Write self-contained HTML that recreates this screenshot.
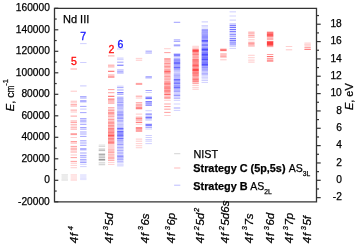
<!DOCTYPE html>
<html><head><meta charset="utf-8"><style>
html,body{margin:0;padding:0;background:#fff;width:357px;height:246px;overflow:hidden;}
svg{display:block;font-family:"Liberation Sans",sans-serif;}
</style></head><body>
<svg width="357" height="246" viewBox="0 0 357 246" font-family="Liberation Sans, sans-serif" fill="#000">
<rect width="357" height="246" fill="#fff"/>
<defs><filter id="bl" x="-5%" y="-5%" width="110%" height="110%"><feGaussianBlur stdDeviation="0.35 0.45"/></filter>
<filter id="gs" filterUnits="userSpaceOnUse" x="0" y="0" width="357" height="246"><feOffset dx="0" dy="0"/></filter></defs>
<g filter="url(#bl)">
<rect x="61.5" y="174.10" width="6.4" height="1" fill="#555555" fill-opacity="0.14"/>
<rect x="61.5" y="175.30" width="6.4" height="1" fill="#555555" fill-opacity="0.14"/>
<rect x="61.5" y="176.50" width="6.4" height="1" fill="#555555" fill-opacity="0.14"/>
<rect x="61.5" y="177.70" width="6.4" height="1" fill="#555555" fill-opacity="0.14"/>
<rect x="61.5" y="178.90" width="6.4" height="1" fill="#555555" fill-opacity="0.14"/>
<rect x="61.5" y="180.00" width="6.4" height="1" fill="#555555" fill-opacity="0.12"/>
<rect x="70.6" y="68.50" width="6.4" height="1" fill="#ff1e1e" fill-opacity="0.42"/>
<rect x="70.6" y="90.70" width="6.4" height="1" fill="#ff1e1e" fill-opacity="0.22"/>
<rect x="70.6" y="100.70" width="6.4" height="1" fill="#ff1e1e" fill-opacity="0.22"/>
<rect x="70.6" y="101.80" width="6.4" height="1" fill="#ff1e1e" fill-opacity="0.22"/>
<rect x="70.6" y="103.80" width="6.4" height="1" fill="#ff1e1e" fill-opacity="0.42"/>
<rect x="70.6" y="105.50" width="6.4" height="1" fill="#ff1e1e" fill-opacity="0.42"/>
<rect x="70.6" y="109.60" width="6.4" height="1" fill="#ff1e1e" fill-opacity="0.42"/>
<rect x="70.6" y="111.50" width="6.4" height="1" fill="#ff1e1e" fill-opacity="0.22"/>
<rect x="70.6" y="115.60" width="6.4" height="1" fill="#ff1e1e" fill-opacity="0.42"/>
<rect x="70.6" y="120.50" width="6.4" height="1" fill="#ff1e1e" fill-opacity="0.42"/>
<rect x="70.6" y="122.10" width="6.4" height="1" fill="#ff1e1e" fill-opacity="0.42"/>
<rect x="70.6" y="124.30" width="6.4" height="1" fill="#ff1e1e" fill-opacity="0.42"/>
<rect x="70.6" y="126.70" width="6.4" height="1" fill="#ff1e1e" fill-opacity="0.42"/>
<rect x="70.6" y="128.60" width="6.4" height="1" fill="#ff1e1e" fill-opacity="0.42"/>
<rect x="70.6" y="133.20" width="6.4" height="1" fill="#ff1e1e" fill-opacity="0.42"/>
<rect x="70.6" y="134.10" width="6.4" height="1" fill="#ff1e1e" fill-opacity="0.42"/>
<rect x="70.6" y="137.00" width="6.4" height="1" fill="#ff1e1e" fill-opacity="0.22"/>
<rect x="70.6" y="141.00" width="6.4" height="1" fill="#ff1e1e" fill-opacity="0.42"/>
<rect x="70.6" y="142.50" width="6.4" height="1" fill="#ff1e1e" fill-opacity="0.42"/>
<rect x="70.6" y="145.90" width="6.4" height="1" fill="#ff1e1e" fill-opacity="0.42"/>
<rect x="70.6" y="147.70" width="6.4" height="1" fill="#ff1e1e" fill-opacity="0.42"/>
<rect x="70.6" y="149.30" width="6.4" height="1" fill="#ff1e1e" fill-opacity="0.42"/>
<rect x="70.6" y="151.50" width="6.4" height="1" fill="#ff1e1e" fill-opacity="0.42"/>
<rect x="70.6" y="154.50" width="6.4" height="1" fill="#ff1e1e" fill-opacity="0.22"/>
<rect x="70.6" y="157.10" width="6.4" height="1" fill="#ff1e1e" fill-opacity="0.42"/>
<rect x="70.6" y="160.90" width="6.4" height="1" fill="#ff1e1e" fill-opacity="0.42"/>
<rect x="70.6" y="162.70" width="6.4" height="1" fill="#ff1e1e" fill-opacity="0.22"/>
<rect x="70.6" y="164.90" width="6.4" height="1" fill="#ff1e1e" fill-opacity="0.22"/>
<rect x="70.6" y="167.20" width="6.4" height="1" fill="#ff1e1e" fill-opacity="0.22"/>
<rect x="70.6" y="174.10" width="6.4" height="1" fill="#ff1e1e" fill-opacity="0.13"/>
<rect x="70.6" y="175.30" width="6.4" height="1" fill="#ff1e1e" fill-opacity="0.13"/>
<rect x="70.6" y="176.50" width="6.4" height="1" fill="#ff1e1e" fill-opacity="0.13"/>
<rect x="70.6" y="177.70" width="6.4" height="1" fill="#ff1e1e" fill-opacity="0.13"/>
<rect x="70.6" y="178.90" width="6.4" height="1" fill="#ff1e1e" fill-opacity="0.13"/>
<rect x="70.6" y="180.00" width="6.4" height="1" fill="#ff1e1e" fill-opacity="0.11"/>
<rect x="80.1" y="43.10" width="6.4" height="1" fill="#2323ff" fill-opacity="0.22"/>
<rect x="80.1" y="62.00" width="6.4" height="1" fill="#2323ff" fill-opacity="0.22"/>
<rect x="80.1" y="85.40" width="6.4" height="1" fill="#2323ff" fill-opacity="0.22"/>
<rect x="80.1" y="96.10" width="6.4" height="1" fill="#2323ff" fill-opacity="0.42"/>
<rect x="80.1" y="97.50" width="6.4" height="1" fill="#2323ff" fill-opacity="0.42"/>
<rect x="80.1" y="100.20" width="6.4" height="1" fill="#2323ff" fill-opacity="0.42"/>
<rect x="80.1" y="101.30" width="6.4" height="1" fill="#2323ff" fill-opacity="0.42"/>
<rect x="80.1" y="105.90" width="6.4" height="1" fill="#2323ff" fill-opacity="0.42"/>
<rect x="80.1" y="108.60" width="6.4" height="1" fill="#2323ff" fill-opacity="0.22"/>
<rect x="80.1" y="112.10" width="6.4" height="1" fill="#2323ff" fill-opacity="0.42"/>
<rect x="80.1" y="118.10" width="6.4" height="1" fill="#2323ff" fill-opacity="0.42"/>
<rect x="80.1" y="119.70" width="6.4" height="1" fill="#2323ff" fill-opacity="0.42"/>
<rect x="80.1" y="121.30" width="6.4" height="1" fill="#2323ff" fill-opacity="0.42"/>
<rect x="80.1" y="123.80" width="6.4" height="1" fill="#2323ff" fill-opacity="0.42"/>
<rect x="80.1" y="127.00" width="6.4" height="1" fill="#2323ff" fill-opacity="0.42"/>
<rect x="80.1" y="128.60" width="6.4" height="1" fill="#2323ff" fill-opacity="0.42"/>
<rect x="80.1" y="131.50" width="6.4" height="1" fill="#2323ff" fill-opacity="0.42"/>
<rect x="80.1" y="133.50" width="6.4" height="1" fill="#2323ff" fill-opacity="0.42"/>
<rect x="80.1" y="135.90" width="6.4" height="1" fill="#2323ff" fill-opacity="0.42"/>
<rect x="80.1" y="140.30" width="6.4" height="1" fill="#2323ff" fill-opacity="0.42"/>
<rect x="80.1" y="142.50" width="6.4" height="1" fill="#2323ff" fill-opacity="0.42"/>
<rect x="80.1" y="144.80" width="6.4" height="1" fill="#2323ff" fill-opacity="0.42"/>
<rect x="80.1" y="148.20" width="6.4" height="1" fill="#2323ff" fill-opacity="0.42"/>
<rect x="80.1" y="149.30" width="6.4" height="1" fill="#2323ff" fill-opacity="0.42"/>
<rect x="80.1" y="152.50" width="6.4" height="1" fill="#2323ff" fill-opacity="0.42"/>
<rect x="80.1" y="154.90" width="6.4" height="1" fill="#2323ff" fill-opacity="0.42"/>
<rect x="80.1" y="156.70" width="6.4" height="1" fill="#2323ff" fill-opacity="0.42"/>
<rect x="80.1" y="158.90" width="6.4" height="1" fill="#2323ff" fill-opacity="0.42"/>
<rect x="80.1" y="160.50" width="6.4" height="1" fill="#2323ff" fill-opacity="0.42"/>
<rect x="80.1" y="162.00" width="6.4" height="1" fill="#2323ff" fill-opacity="0.42"/>
<rect x="80.1" y="163.80" width="6.4" height="1" fill="#2323ff" fill-opacity="0.22"/>
<rect x="80.1" y="166.10" width="6.4" height="1" fill="#2323ff" fill-opacity="0.22"/>
<rect x="80.1" y="174.30" width="6.4" height="1" fill="#2323ff" fill-opacity="0.12"/>
<rect x="80.1" y="175.50" width="6.4" height="1" fill="#2323ff" fill-opacity="0.12"/>
<rect x="80.1" y="176.70" width="6.4" height="1" fill="#2323ff" fill-opacity="0.12"/>
<rect x="80.1" y="177.90" width="6.4" height="1" fill="#2323ff" fill-opacity="0.12"/>
<rect x="80.1" y="179.10" width="6.4" height="1" fill="#2323ff" fill-opacity="0.12"/>
<rect x="98.7" y="144.60" width="6.4" height="1" fill="#555555" fill-opacity="0.22"/>
<rect x="98.7" y="146.00" width="6.4" height="1" fill="#555555" fill-opacity="0.22"/>
<rect x="98.7" y="148.60" width="6.4" height="1" fill="#555555" fill-opacity="0.42"/>
<rect x="98.7" y="150.10" width="6.4" height="1" fill="#555555" fill-opacity="0.42"/>
<rect x="98.7" y="153.70" width="6.4" height="1" fill="#555555" fill-opacity="0.70"/>
<rect x="98.7" y="155.40" width="6.4" height="1" fill="#555555" fill-opacity="0.42"/>
<rect x="98.7" y="156.80" width="6.4" height="1" fill="#555555" fill-opacity="0.42"/>
<rect x="98.7" y="158.80" width="6.4" height="1" fill="#555555" fill-opacity="0.70"/>
<rect x="98.7" y="159.80" width="6.4" height="1" fill="#555555" fill-opacity="0.42"/>
<rect x="98.7" y="161.90" width="6.4" height="1" fill="#555555" fill-opacity="0.22"/>
<rect x="98.7" y="163.50" width="6.4" height="1" fill="#555555" fill-opacity="0.22"/>
<rect x="98.7" y="164.30" width="6.4" height="1" fill="#555555" fill-opacity="0.22"/>
<rect x="108.0" y="55.40" width="6.4" height="1" fill="#ff1e1e" fill-opacity="0.42"/>
<rect x="108.0" y="64.70" width="6.4" height="1" fill="#ff1e1e" fill-opacity="0.42"/>
<rect x="108.0" y="66.40" width="6.4" height="1" fill="#ff1e1e" fill-opacity="0.42"/>
<rect x="108.0" y="70.80" width="6.4" height="1" fill="#ff1e1e" fill-opacity="0.70"/>
<rect x="108.0" y="74.50" width="6.4" height="1" fill="#ff1e1e" fill-opacity="0.42"/>
<rect x="108.0" y="75.90" width="6.4" height="1" fill="#ff1e1e" fill-opacity="0.42"/>
<rect x="108.0" y="76.90" width="6.4" height="1" fill="#ff1e1e" fill-opacity="0.42"/>
<rect x="108.0" y="89.10" width="6.4" height="1" fill="#ff1e1e" fill-opacity="0.42"/>
<rect x="108.0" y="92.20" width="6.4" height="1" fill="#ff1e1e" fill-opacity="0.42"/>
<rect x="108.0" y="95.80" width="6.4" height="1" fill="#ff1e1e" fill-opacity="0.70"/>
<rect x="108.0" y="98.30" width="6.4" height="1" fill="#ff1e1e" fill-opacity="0.42"/>
<rect x="108.0" y="99.00" width="6.4" height="1" fill="#ff1e1e" fill-opacity="0.38"/>
<rect x="108.0" y="100.33" width="6.4" height="1" fill="#ff1e1e" fill-opacity="0.46"/>
<rect x="108.0" y="101.63" width="6.4" height="1" fill="#ff1e1e" fill-opacity="0.43"/>
<rect x="108.0" y="103.03" width="6.4" height="1" fill="#ff1e1e" fill-opacity="0.31"/>
<rect x="108.0" y="107.22" width="6.4" height="1" fill="#ff1e1e" fill-opacity="0.41"/>
<rect x="108.0" y="108.78" width="6.4" height="1" fill="#ff1e1e" fill-opacity="0.33"/>
<rect x="108.0" y="110.14" width="6.4" height="1" fill="#ff1e1e" fill-opacity="0.46"/>
<rect x="108.0" y="111.74" width="6.4" height="1" fill="#ff1e1e" fill-opacity="0.62"/>
<rect x="108.0" y="113.36" width="6.4" height="1" fill="#ff1e1e" fill-opacity="0.68"/>
<rect x="108.0" y="114.74" width="6.4" height="1" fill="#ff1e1e" fill-opacity="0.34"/>
<rect x="108.0" y="116.05" width="6.4" height="1" fill="#ff1e1e" fill-opacity="0.38"/>
<rect x="108.0" y="117.61" width="6.4" height="1" fill="#ff1e1e" fill-opacity="0.35"/>
<rect x="108.0" y="119.09" width="6.4" height="1" fill="#ff1e1e" fill-opacity="0.46"/>
<rect x="108.0" y="120.50" width="6.4" height="1" fill="#ff1e1e" fill-opacity="0.44"/>
<rect x="108.0" y="121.79" width="6.4" height="1" fill="#ff1e1e" fill-opacity="0.59"/>
<rect x="108.0" y="123.31" width="6.4" height="1" fill="#ff1e1e" fill-opacity="0.60"/>
<rect x="108.0" y="124.79" width="6.4" height="1" fill="#ff1e1e" fill-opacity="0.60"/>
<rect x="108.0" y="126.34" width="6.4" height="1" fill="#ff1e1e" fill-opacity="0.59"/>
<rect x="108.0" y="127.82" width="6.4" height="1" fill="#ff1e1e" fill-opacity="0.68"/>
<rect x="108.0" y="129.35" width="6.4" height="1" fill="#ff1e1e" fill-opacity="0.70"/>
<rect x="108.0" y="130.66" width="6.4" height="1" fill="#ff1e1e" fill-opacity="0.67"/>
<rect x="108.0" y="131.99" width="6.4" height="1" fill="#ff1e1e" fill-opacity="0.57"/>
<rect x="108.0" y="133.50" width="6.4" height="1" fill="#ff1e1e" fill-opacity="0.88"/>
<rect x="108.0" y="134.89" width="6.4" height="1" fill="#ff1e1e" fill-opacity="0.82"/>
<rect x="108.0" y="136.32" width="6.4" height="1" fill="#ff1e1e" fill-opacity="0.81"/>
<rect x="108.0" y="137.83" width="6.4" height="1" fill="#ff1e1e" fill-opacity="0.66"/>
<rect x="108.0" y="139.33" width="6.4" height="1" fill="#ff1e1e" fill-opacity="0.68"/>
<rect x="108.0" y="140.70" width="6.4" height="1" fill="#ff1e1e" fill-opacity="0.65"/>
<rect x="108.0" y="141.99" width="6.4" height="1" fill="#ff1e1e" fill-opacity="0.58"/>
<rect x="108.0" y="143.30" width="6.4" height="1" fill="#ff1e1e" fill-opacity="0.67"/>
<rect x="108.0" y="145.50" width="6.4" height="1" fill="#ff1e1e" fill-opacity="0.42"/>
<rect x="108.0" y="147.50" width="6.4" height="1" fill="#ff1e1e" fill-opacity="0.42"/>
<rect x="108.0" y="149.30" width="6.4" height="1" fill="#ff1e1e" fill-opacity="0.42"/>
<rect x="108.0" y="150.70" width="6.4" height="1" fill="#ff1e1e" fill-opacity="0.42"/>
<rect x="108.0" y="152.10" width="6.4" height="1" fill="#ff1e1e" fill-opacity="0.42"/>
<rect x="108.0" y="153.70" width="6.4" height="1" fill="#ff1e1e" fill-opacity="0.42"/>
<rect x="108.0" y="155.40" width="6.4" height="1" fill="#ff1e1e" fill-opacity="0.42"/>
<rect x="108.0" y="156.80" width="6.4" height="1" fill="#ff1e1e" fill-opacity="0.42"/>
<rect x="108.0" y="158.20" width="6.4" height="1" fill="#ff1e1e" fill-opacity="0.42"/>
<rect x="108.0" y="159.80" width="6.4" height="1" fill="#ff1e1e" fill-opacity="0.42"/>
<rect x="108.0" y="161.90" width="6.4" height="1" fill="#ff1e1e" fill-opacity="0.22"/>
<rect x="108.0" y="163.90" width="6.4" height="1" fill="#ff1e1e" fill-opacity="0.22"/>
<rect x="117.1" y="48.50" width="6.4" height="1" fill="#2323ff" fill-opacity="0.22"/>
<rect x="117.1" y="57.60" width="6.4" height="1" fill="#2323ff" fill-opacity="0.22"/>
<rect x="117.1" y="59.10" width="6.4" height="1" fill="#2323ff" fill-opacity="0.22"/>
<rect x="117.1" y="61.70" width="6.4" height="1" fill="#2323ff" fill-opacity="0.42"/>
<rect x="117.1" y="64.70" width="6.4" height="1" fill="#2323ff" fill-opacity="0.70"/>
<rect x="117.1" y="69.50" width="6.4" height="1" fill="#2323ff" fill-opacity="0.42"/>
<rect x="117.1" y="71.20" width="6.4" height="1" fill="#2323ff" fill-opacity="0.42"/>
<rect x="117.1" y="72.50" width="6.4" height="1" fill="#2323ff" fill-opacity="0.42"/>
<rect x="117.1" y="85.70" width="6.4" height="1" fill="#2323ff" fill-opacity="0.22"/>
<rect x="117.1" y="87.10" width="6.4" height="1" fill="#2323ff" fill-opacity="0.42"/>
<rect x="117.1" y="89.50" width="6.4" height="1" fill="#2323ff" fill-opacity="0.42"/>
<rect x="117.1" y="92.20" width="6.4" height="1" fill="#2323ff" fill-opacity="0.70"/>
<rect x="117.1" y="93.80" width="6.4" height="1" fill="#2323ff" fill-opacity="0.42"/>
<rect x="117.1" y="96.70" width="6.4" height="1" fill="#2323ff" fill-opacity="0.42"/>
<rect x="117.1" y="98.00" width="6.4" height="1" fill="#2323ff" fill-opacity="0.36"/>
<rect x="117.1" y="99.41" width="6.4" height="1" fill="#2323ff" fill-opacity="0.52"/>
<rect x="117.1" y="100.72" width="6.4" height="1" fill="#2323ff" fill-opacity="0.41"/>
<rect x="117.1" y="102.18" width="6.4" height="1" fill="#2323ff" fill-opacity="0.52"/>
<rect x="117.1" y="103.74" width="6.4" height="1" fill="#2323ff" fill-opacity="0.52"/>
<rect x="117.1" y="105.12" width="6.4" height="1" fill="#2323ff" fill-opacity="0.40"/>
<rect x="117.1" y="106.52" width="6.4" height="1" fill="#2323ff" fill-opacity="0.52"/>
<rect x="117.1" y="108.13" width="6.4" height="1" fill="#2323ff" fill-opacity="0.34"/>
<rect x="117.1" y="109.46" width="6.4" height="1" fill="#2323ff" fill-opacity="0.36"/>
<rect x="117.1" y="110.82" width="6.4" height="1" fill="#2323ff" fill-opacity="0.42"/>
<rect x="117.1" y="112.30" width="6.4" height="1" fill="#2323ff" fill-opacity="0.56"/>
<rect x="117.1" y="113.72" width="6.4" height="1" fill="#2323ff" fill-opacity="0.64"/>
<rect x="117.1" y="115.33" width="6.4" height="1" fill="#2323ff" fill-opacity="0.63"/>
<rect x="117.1" y="116.82" width="6.4" height="1" fill="#2323ff" fill-opacity="0.47"/>
<rect x="117.1" y="118.12" width="6.4" height="1" fill="#2323ff" fill-opacity="0.52"/>
<rect x="117.1" y="119.67" width="6.4" height="1" fill="#2323ff" fill-opacity="0.52"/>
<rect x="117.1" y="121.22" width="6.4" height="1" fill="#2323ff" fill-opacity="0.40"/>
<rect x="117.1" y="122.63" width="6.4" height="1" fill="#2323ff" fill-opacity="0.33"/>
<rect x="117.1" y="124.13" width="6.4" height="1" fill="#2323ff" fill-opacity="0.32"/>
<rect x="117.1" y="125.43" width="6.4" height="1" fill="#2323ff" fill-opacity="0.35"/>
<rect x="117.1" y="126.76" width="6.4" height="1" fill="#2323ff" fill-opacity="0.39"/>
<rect x="117.1" y="128.06" width="6.4" height="1" fill="#2323ff" fill-opacity="0.71"/>
<rect x="117.1" y="129.37" width="6.4" height="1" fill="#2323ff" fill-opacity="0.68"/>
<rect x="117.1" y="130.95" width="6.4" height="1" fill="#2323ff" fill-opacity="0.71"/>
<rect x="117.1" y="132.31" width="6.4" height="1" fill="#2323ff" fill-opacity="0.74"/>
<rect x="117.1" y="133.63" width="6.4" height="1" fill="#2323ff" fill-opacity="0.85"/>
<rect x="117.1" y="135.07" width="6.4" height="1" fill="#2323ff" fill-opacity="0.69"/>
<rect x="117.1" y="136.38" width="6.4" height="1" fill="#2323ff" fill-opacity="0.73"/>
<rect x="117.1" y="137.95" width="6.4" height="1" fill="#2323ff" fill-opacity="0.68"/>
<rect x="117.1" y="139.55" width="6.4" height="1" fill="#2323ff" fill-opacity="0.70"/>
<rect x="117.1" y="141.02" width="6.4" height="1" fill="#2323ff" fill-opacity="0.31"/>
<rect x="117.1" y="142.48" width="6.4" height="1" fill="#2323ff" fill-opacity="0.54"/>
<rect x="117.1" y="144.05" width="6.4" height="1" fill="#2323ff" fill-opacity="0.47"/>
<rect x="117.1" y="145.50" width="6.4" height="1" fill="#2323ff" fill-opacity="0.42"/>
<rect x="117.1" y="147.10" width="6.4" height="1" fill="#2323ff" fill-opacity="0.42"/>
<rect x="117.1" y="148.50" width="6.4" height="1" fill="#2323ff" fill-opacity="0.42"/>
<rect x="117.1" y="150.10" width="6.4" height="1" fill="#2323ff" fill-opacity="0.42"/>
<rect x="117.1" y="151.70" width="6.4" height="1" fill="#2323ff" fill-opacity="0.42"/>
<rect x="117.1" y="153.30" width="6.4" height="1" fill="#2323ff" fill-opacity="0.42"/>
<rect x="117.1" y="154.90" width="6.4" height="1" fill="#2323ff" fill-opacity="0.42"/>
<rect x="117.1" y="156.30" width="6.4" height="1" fill="#2323ff" fill-opacity="0.70"/>
<rect x="117.1" y="157.70" width="6.4" height="1" fill="#2323ff" fill-opacity="0.42"/>
<rect x="117.1" y="159.10" width="6.4" height="1" fill="#2323ff" fill-opacity="0.42"/>
<rect x="117.1" y="160.70" width="6.4" height="1" fill="#2323ff" fill-opacity="0.42"/>
<rect x="117.1" y="162.10" width="6.4" height="1" fill="#2323ff" fill-opacity="0.22"/>
<rect x="117.1" y="163.70" width="6.4" height="1" fill="#2323ff" fill-opacity="0.22"/>
<rect x="117.1" y="165.30" width="6.4" height="1" fill="#2323ff" fill-opacity="0.22"/>
<rect x="135.8" y="57.90" width="6.4" height="1" fill="#ff1e1e" fill-opacity="0.22"/>
<rect x="135.8" y="59.70" width="6.4" height="1" fill="#ff1e1e" fill-opacity="0.22"/>
<rect x="135.8" y="82.90" width="6.4" height="1" fill="#ff1e1e" fill-opacity="0.42"/>
<rect x="135.8" y="83.90" width="6.4" height="1" fill="#ff1e1e" fill-opacity="0.42"/>
<rect x="135.8" y="95.70" width="6.4" height="1" fill="#ff1e1e" fill-opacity="0.42"/>
<rect x="135.8" y="97.50" width="6.4" height="1" fill="#ff1e1e" fill-opacity="0.22"/>
<rect x="135.8" y="102.20" width="6.4" height="1" fill="#ff1e1e" fill-opacity="0.42"/>
<rect x="135.8" y="103.80" width="6.4" height="1" fill="#ff1e1e" fill-opacity="0.42"/>
<rect x="135.8" y="105.20" width="6.4" height="1" fill="#ff1e1e" fill-opacity="0.42"/>
<rect x="135.8" y="106.70" width="6.4" height="1" fill="#ff1e1e" fill-opacity="0.70"/>
<rect x="135.8" y="108.20" width="6.4" height="1" fill="#ff1e1e" fill-opacity="0.70"/>
<rect x="135.8" y="113.60" width="6.4" height="1" fill="#ff1e1e" fill-opacity="0.22"/>
<rect x="135.8" y="116.70" width="6.4" height="1" fill="#ff1e1e" fill-opacity="0.42"/>
<rect x="135.8" y="118.30" width="6.4" height="1" fill="#ff1e1e" fill-opacity="0.70"/>
<rect x="135.8" y="119.70" width="6.4" height="1" fill="#ff1e1e" fill-opacity="0.42"/>
<rect x="135.8" y="121.80" width="6.4" height="1" fill="#ff1e1e" fill-opacity="0.70"/>
<rect x="135.8" y="123.80" width="6.4" height="1" fill="#ff1e1e" fill-opacity="0.22"/>
<rect x="135.8" y="127.30" width="6.4" height="1" fill="#ff1e1e" fill-opacity="0.70"/>
<rect x="135.8" y="128.50" width="6.4" height="1" fill="#ff1e1e" fill-opacity="0.70"/>
<rect x="135.8" y="129.90" width="6.4" height="1" fill="#ff1e1e" fill-opacity="0.42"/>
<rect x="135.8" y="130.90" width="6.4" height="1" fill="#ff1e1e" fill-opacity="0.42"/>
<rect x="135.8" y="138.60" width="6.4" height="1" fill="#ff1e1e" fill-opacity="0.22"/>
<rect x="135.8" y="140.70" width="6.4" height="1" fill="#ff1e1e" fill-opacity="0.22"/>
<rect x="135.8" y="143.10" width="6.4" height="1" fill="#ff1e1e" fill-opacity="0.22"/>
<rect x="135.8" y="145.20" width="6.4" height="1" fill="#ff1e1e" fill-opacity="0.22"/>
<rect x="135.8" y="147.20" width="6.4" height="1" fill="#ff1e1e" fill-opacity="0.22"/>
<rect x="145.5" y="50.70" width="6.4" height="1" fill="#2323ff" fill-opacity="0.42"/>
<rect x="145.5" y="52.50" width="6.4" height="1" fill="#2323ff" fill-opacity="0.42"/>
<rect x="145.5" y="76.20" width="6.4" height="1" fill="#2323ff" fill-opacity="0.42"/>
<rect x="145.5" y="77.40" width="6.4" height="1" fill="#2323ff" fill-opacity="0.42"/>
<rect x="145.5" y="90.00" width="6.4" height="1" fill="#2323ff" fill-opacity="0.42"/>
<rect x="145.5" y="92.00" width="6.4" height="1" fill="#2323ff" fill-opacity="0.22"/>
<rect x="145.5" y="96.70" width="6.4" height="1" fill="#2323ff" fill-opacity="0.70"/>
<rect x="145.5" y="98.10" width="6.4" height="1" fill="#2323ff" fill-opacity="0.70"/>
<rect x="145.5" y="101.20" width="6.4" height="1" fill="#2323ff" fill-opacity="0.70"/>
<rect x="145.5" y="102.60" width="6.4" height="1" fill="#2323ff" fill-opacity="0.70"/>
<rect x="145.5" y="104.20" width="6.4" height="1" fill="#2323ff" fill-opacity="0.42"/>
<rect x="145.5" y="105.00" width="6.4" height="1" fill="#2323ff" fill-opacity="0.42"/>
<rect x="145.5" y="110.20" width="6.4" height="1" fill="#2323ff" fill-opacity="0.22"/>
<rect x="145.5" y="113.60" width="6.4" height="1" fill="#2323ff" fill-opacity="0.70"/>
<rect x="145.5" y="115.70" width="6.4" height="1" fill="#2323ff" fill-opacity="0.42"/>
<rect x="145.5" y="117.10" width="6.4" height="1" fill="#2323ff" fill-opacity="0.70"/>
<rect x="145.5" y="118.30" width="6.4" height="1" fill="#2323ff" fill-opacity="0.42"/>
<rect x="145.5" y="119.70" width="6.4" height="1" fill="#2323ff" fill-opacity="0.22"/>
<rect x="145.5" y="123.80" width="6.4" height="1" fill="#2323ff" fill-opacity="0.70"/>
<rect x="145.5" y="125.20" width="6.4" height="1" fill="#2323ff" fill-opacity="0.70"/>
<rect x="145.5" y="126.90" width="6.4" height="1" fill="#2323ff" fill-opacity="0.42"/>
<rect x="145.5" y="128.50" width="6.4" height="1" fill="#2323ff" fill-opacity="0.22"/>
<rect x="145.5" y="135.00" width="6.4" height="1" fill="#2323ff" fill-opacity="0.22"/>
<rect x="145.5" y="137.00" width="6.4" height="1" fill="#2323ff" fill-opacity="0.22"/>
<rect x="145.5" y="139.10" width="6.4" height="1" fill="#2323ff" fill-opacity="0.22"/>
<rect x="145.5" y="140.70" width="6.4" height="1" fill="#2323ff" fill-opacity="0.22"/>
<rect x="145.5" y="143.10" width="6.4" height="1" fill="#2323ff" fill-opacity="0.22"/>
<rect x="164.2" y="48.20" width="6.4" height="1" fill="#ff1e1e" fill-opacity="0.22"/>
<rect x="164.2" y="52.10" width="6.4" height="1" fill="#ff1e1e" fill-opacity="0.42"/>
<rect x="164.2" y="58.00" width="6.4" height="1" fill="#ff1e1e" fill-opacity="0.39"/>
<rect x="164.2" y="59.20" width="6.4" height="1" fill="#ff1e1e" fill-opacity="0.49"/>
<rect x="164.2" y="60.51" width="6.4" height="1" fill="#ff1e1e" fill-opacity="0.49"/>
<rect x="164.2" y="61.75" width="6.4" height="1" fill="#ff1e1e" fill-opacity="0.36"/>
<rect x="164.2" y="63.15" width="6.4" height="1" fill="#ff1e1e" fill-opacity="0.55"/>
<rect x="164.2" y="64.56" width="6.4" height="1" fill="#ff1e1e" fill-opacity="0.50"/>
<rect x="164.2" y="65.96" width="6.4" height="1" fill="#ff1e1e" fill-opacity="0.48"/>
<rect x="164.2" y="67.17" width="6.4" height="1" fill="#ff1e1e" fill-opacity="0.43"/>
<rect x="164.2" y="68.43" width="6.4" height="1" fill="#ff1e1e" fill-opacity="0.31"/>
<rect x="164.2" y="69.58" width="6.4" height="1" fill="#ff1e1e" fill-opacity="0.68"/>
<rect x="164.2" y="70.94" width="6.4" height="1" fill="#ff1e1e" fill-opacity="0.71"/>
<rect x="164.2" y="72.38" width="6.4" height="1" fill="#ff1e1e" fill-opacity="0.79"/>
<rect x="164.2" y="73.64" width="6.4" height="1" fill="#ff1e1e" fill-opacity="0.36"/>
<rect x="164.2" y="74.85" width="6.4" height="1" fill="#ff1e1e" fill-opacity="0.35"/>
<rect x="164.2" y="76.06" width="6.4" height="1" fill="#ff1e1e" fill-opacity="0.46"/>
<rect x="164.2" y="77.48" width="6.4" height="1" fill="#ff1e1e" fill-opacity="0.51"/>
<rect x="164.2" y="78.78" width="6.4" height="1" fill="#ff1e1e" fill-opacity="0.46"/>
<rect x="164.2" y="80.17" width="6.4" height="1" fill="#ff1e1e" fill-opacity="0.32"/>
<rect x="164.2" y="81.52" width="6.4" height="1" fill="#ff1e1e" fill-opacity="0.72"/>
<rect x="164.2" y="82.90" width="6.4" height="1" fill="#ff1e1e" fill-opacity="0.63"/>
<rect x="164.2" y="84.29" width="6.4" height="1" fill="#ff1e1e" fill-opacity="0.72"/>
<rect x="164.2" y="85.74" width="6.4" height="1" fill="#ff1e1e" fill-opacity="0.66"/>
<rect x="164.2" y="87.18" width="6.4" height="1" fill="#ff1e1e" fill-opacity="0.63"/>
<rect x="164.2" y="88.36" width="6.4" height="1" fill="#ff1e1e" fill-opacity="0.74"/>
<rect x="164.2" y="89.75" width="6.4" height="1" fill="#ff1e1e" fill-opacity="0.72"/>
<rect x="164.2" y="91.20" width="6.4" height="1" fill="#ff1e1e" fill-opacity="0.65"/>
<rect x="164.2" y="92.52" width="6.4" height="1" fill="#ff1e1e" fill-opacity="0.60"/>
<rect x="164.2" y="93.97" width="6.4" height="1" fill="#ff1e1e" fill-opacity="0.68"/>
<rect x="164.2" y="95.40" width="6.4" height="1" fill="#ff1e1e" fill-opacity="0.41"/>
<rect x="164.2" y="96.82" width="6.4" height="1" fill="#ff1e1e" fill-opacity="0.51"/>
<rect x="164.2" y="98.03" width="6.4" height="1" fill="#ff1e1e" fill-opacity="0.36"/>
<rect x="164.2" y="99.80" width="6.4" height="1" fill="#ff1e1e" fill-opacity="0.22"/>
<rect x="164.2" y="103.50" width="6.4" height="1" fill="#ff1e1e" fill-opacity="0.42"/>
<rect x="164.2" y="106.10" width="6.4" height="1" fill="#ff1e1e" fill-opacity="0.42"/>
<rect x="164.2" y="108.70" width="6.4" height="1" fill="#ff1e1e" fill-opacity="0.42"/>
<rect x="164.2" y="111.90" width="6.4" height="1" fill="#ff1e1e" fill-opacity="0.42"/>
<rect x="164.2" y="115.00" width="6.4" height="1" fill="#ff1e1e" fill-opacity="0.22"/>
<rect x="173.8" y="21.80" width="6.4" height="1" fill="#2323ff" fill-opacity="0.42"/>
<rect x="173.8" y="39.40" width="6.4" height="1" fill="#2323ff" fill-opacity="0.42"/>
<rect x="173.8" y="40.90" width="6.4" height="1" fill="#2323ff" fill-opacity="0.42"/>
<rect x="173.8" y="44.40" width="6.4" height="1" fill="#2323ff" fill-opacity="0.42"/>
<rect x="173.8" y="45.30" width="6.4" height="1" fill="#2323ff" fill-opacity="0.42"/>
<rect x="173.8" y="53.70" width="6.4" height="1" fill="#2323ff" fill-opacity="0.70"/>
<rect x="173.8" y="54.80" width="6.4" height="1" fill="#2323ff" fill-opacity="0.70"/>
<rect x="173.8" y="56.30" width="6.4" height="1" fill="#2323ff" fill-opacity="0.42"/>
<rect x="173.8" y="58.00" width="6.4" height="1" fill="#2323ff" fill-opacity="0.31"/>
<rect x="173.8" y="59.33" width="6.4" height="1" fill="#2323ff" fill-opacity="0.71"/>
<rect x="173.8" y="60.51" width="6.4" height="1" fill="#2323ff" fill-opacity="0.70"/>
<rect x="173.8" y="61.80" width="6.4" height="1" fill="#2323ff" fill-opacity="0.78"/>
<rect x="173.8" y="63.07" width="6.4" height="1" fill="#2323ff" fill-opacity="0.72"/>
<rect x="173.8" y="64.38" width="6.4" height="1" fill="#2323ff" fill-opacity="0.64"/>
<rect x="173.8" y="65.67" width="6.4" height="1" fill="#2323ff" fill-opacity="0.64"/>
<rect x="173.8" y="67.06" width="6.4" height="1" fill="#2323ff" fill-opacity="0.72"/>
<rect x="173.8" y="68.43" width="6.4" height="1" fill="#2323ff" fill-opacity="0.69"/>
<rect x="173.8" y="69.73" width="6.4" height="1" fill="#2323ff" fill-opacity="0.39"/>
<rect x="173.8" y="71.12" width="6.4" height="1" fill="#2323ff" fill-opacity="0.28"/>
<rect x="173.8" y="72.44" width="6.4" height="1" fill="#2323ff" fill-opacity="0.31"/>
<rect x="173.8" y="73.67" width="6.4" height="1" fill="#2323ff" fill-opacity="0.44"/>
<rect x="173.8" y="74.97" width="6.4" height="1" fill="#2323ff" fill-opacity="0.39"/>
<rect x="173.8" y="76.36" width="6.4" height="1" fill="#2323ff" fill-opacity="0.48"/>
<rect x="173.8" y="77.64" width="6.4" height="1" fill="#2323ff" fill-opacity="0.40"/>
<rect x="173.8" y="78.94" width="6.4" height="1" fill="#2323ff" fill-opacity="0.70"/>
<rect x="173.8" y="80.23" width="6.4" height="1" fill="#2323ff" fill-opacity="0.67"/>
<rect x="173.8" y="81.66" width="6.4" height="1" fill="#2323ff" fill-opacity="0.73"/>
<rect x="173.8" y="83.10" width="6.4" height="1" fill="#2323ff" fill-opacity="0.68"/>
<rect x="173.8" y="84.54" width="6.4" height="1" fill="#2323ff" fill-opacity="0.62"/>
<rect x="173.8" y="85.72" width="6.4" height="1" fill="#2323ff" fill-opacity="0.61"/>
<rect x="173.8" y="86.94" width="6.4" height="1" fill="#2323ff" fill-opacity="0.70"/>
<rect x="173.8" y="88.33" width="6.4" height="1" fill="#2323ff" fill-opacity="0.62"/>
<rect x="173.8" y="89.70" width="6.4" height="1" fill="#2323ff" fill-opacity="0.42"/>
<rect x="173.8" y="90.88" width="6.4" height="1" fill="#2323ff" fill-opacity="0.47"/>
<rect x="173.8" y="92.33" width="6.4" height="1" fill="#2323ff" fill-opacity="0.30"/>
<rect x="173.8" y="93.77" width="6.4" height="1" fill="#2323ff" fill-opacity="0.35"/>
<rect x="173.8" y="95.07" width="6.4" height="1" fill="#2323ff" fill-opacity="0.50"/>
<rect x="173.8" y="96.47" width="6.4" height="1" fill="#2323ff" fill-opacity="0.29"/>
<rect x="173.8" y="97.75" width="6.4" height="1" fill="#2323ff" fill-opacity="0.38"/>
<rect x="173.8" y="99.80" width="6.4" height="1" fill="#2323ff" fill-opacity="0.22"/>
<rect x="173.8" y="103.50" width="6.4" height="1" fill="#2323ff" fill-opacity="0.22"/>
<rect x="173.8" y="107.50" width="6.4" height="1" fill="#2323ff" fill-opacity="0.42"/>
<rect x="173.8" y="109.90" width="6.4" height="1" fill="#2323ff" fill-opacity="0.22"/>
<rect x="192.4" y="45.80" width="6.4" height="1" fill="#ff1e1e" fill-opacity="0.22"/>
<rect x="192.4" y="47.20" width="6.4" height="1" fill="#ff1e1e" fill-opacity="0.22"/>
<rect x="192.4" y="48.70" width="6.4" height="1" fill="#ff1e1e" fill-opacity="0.70"/>
<rect x="192.4" y="49.90" width="6.4" height="1" fill="#ff1e1e" fill-opacity="0.90"/>
<rect x="192.4" y="51.20" width="6.4" height="1" fill="#ff1e1e" fill-opacity="0.90"/>
<rect x="192.4" y="52.50" width="6.4" height="1" fill="#ff1e1e" fill-opacity="0.70"/>
<rect x="192.4" y="53.80" width="6.4" height="1" fill="#ff1e1e" fill-opacity="0.70"/>
<rect x="192.4" y="55.10" width="6.4" height="1" fill="#ff1e1e" fill-opacity="0.42"/>
<rect x="192.4" y="56.50" width="6.4" height="1" fill="#ff1e1e" fill-opacity="0.70"/>
<rect x="192.4" y="57.80" width="6.4" height="1" fill="#ff1e1e" fill-opacity="0.42"/>
<rect x="192.4" y="59.00" width="6.4" height="1" fill="#ff1e1e" fill-opacity="0.60"/>
<rect x="192.4" y="60.20" width="6.4" height="1" fill="#ff1e1e" fill-opacity="0.73"/>
<rect x="192.4" y="61.30" width="6.4" height="1" fill="#ff1e1e" fill-opacity="0.69"/>
<rect x="192.4" y="62.53" width="6.4" height="1" fill="#ff1e1e" fill-opacity="0.78"/>
<rect x="192.4" y="63.82" width="6.4" height="1" fill="#ff1e1e" fill-opacity="0.73"/>
<rect x="192.4" y="65.22" width="6.4" height="1" fill="#ff1e1e" fill-opacity="0.89"/>
<rect x="192.4" y="66.35" width="6.4" height="1" fill="#ff1e1e" fill-opacity="0.73"/>
<rect x="192.4" y="67.68" width="6.4" height="1" fill="#ff1e1e" fill-opacity="0.74"/>
<rect x="192.4" y="68.91" width="6.4" height="1" fill="#ff1e1e" fill-opacity="0.87"/>
<rect x="192.4" y="70.09" width="6.4" height="1" fill="#ff1e1e" fill-opacity="0.89"/>
<rect x="192.4" y="71.36" width="6.4" height="1" fill="#ff1e1e" fill-opacity="0.74"/>
<rect x="192.4" y="72.47" width="6.4" height="1" fill="#ff1e1e" fill-opacity="0.80"/>
<rect x="192.4" y="73.60" width="6.4" height="1" fill="#ff1e1e" fill-opacity="0.83"/>
<rect x="192.4" y="74.94" width="6.4" height="1" fill="#ff1e1e" fill-opacity="0.57"/>
<rect x="192.4" y="76.29" width="6.4" height="1" fill="#ff1e1e" fill-opacity="0.57"/>
<rect x="192.4" y="77.65" width="6.4" height="1" fill="#ff1e1e" fill-opacity="0.66"/>
<rect x="192.4" y="78.85" width="6.4" height="1" fill="#ff1e1e" fill-opacity="0.69"/>
<rect x="192.4" y="80.23" width="6.4" height="1" fill="#ff1e1e" fill-opacity="0.62"/>
<rect x="192.4" y="81.37" width="6.4" height="1" fill="#ff1e1e" fill-opacity="0.68"/>
<rect x="192.4" y="83.10" width="6.4" height="1" fill="#ff1e1e" fill-opacity="0.42"/>
<rect x="192.4" y="85.00" width="6.4" height="1" fill="#ff1e1e" fill-opacity="0.22"/>
<rect x="192.4" y="86.90" width="6.4" height="1" fill="#ff1e1e" fill-opacity="0.22"/>
<rect x="192.4" y="88.70" width="6.4" height="1" fill="#ff1e1e" fill-opacity="0.22"/>
<rect x="201.6" y="21.40" width="6.4" height="1" fill="#2323ff" fill-opacity="0.22"/>
<rect x="201.6" y="25.10" width="6.4" height="1" fill="#2323ff" fill-opacity="0.22"/>
<rect x="201.6" y="26.50" width="6.4" height="1" fill="#2323ff" fill-opacity="0.22"/>
<rect x="201.6" y="28.80" width="6.4" height="1" fill="#2323ff" fill-opacity="0.47"/>
<rect x="201.6" y="29.99" width="6.4" height="1" fill="#2323ff" fill-opacity="0.46"/>
<rect x="201.6" y="31.20" width="6.4" height="1" fill="#2323ff" fill-opacity="0.51"/>
<rect x="201.6" y="32.44" width="6.4" height="1" fill="#2323ff" fill-opacity="0.60"/>
<rect x="201.6" y="33.67" width="6.4" height="1" fill="#2323ff" fill-opacity="0.55"/>
<rect x="201.6" y="34.87" width="6.4" height="1" fill="#2323ff" fill-opacity="0.52"/>
<rect x="201.6" y="36.02" width="6.4" height="1" fill="#2323ff" fill-opacity="0.50"/>
<rect x="201.6" y="37.17" width="6.4" height="1" fill="#2323ff" fill-opacity="0.60"/>
<rect x="201.6" y="38.49" width="6.4" height="1" fill="#2323ff" fill-opacity="0.76"/>
<rect x="201.6" y="39.92" width="6.4" height="1" fill="#2323ff" fill-opacity="0.82"/>
<rect x="201.6" y="41.20" width="6.4" height="1" fill="#2323ff" fill-opacity="0.82"/>
<rect x="201.6" y="42.47" width="6.4" height="1" fill="#2323ff" fill-opacity="0.55"/>
<rect x="201.6" y="43.83" width="6.4" height="1" fill="#2323ff" fill-opacity="0.65"/>
<rect x="201.6" y="45.08" width="6.4" height="1" fill="#2323ff" fill-opacity="0.62"/>
<rect x="201.6" y="46.44" width="6.4" height="1" fill="#2323ff" fill-opacity="0.58"/>
<rect x="201.6" y="47.71" width="6.4" height="1" fill="#2323ff" fill-opacity="0.77"/>
<rect x="201.6" y="48.90" width="6.4" height="1" fill="#2323ff" fill-opacity="0.90"/>
<rect x="201.6" y="50.12" width="6.4" height="1" fill="#2323ff" fill-opacity="0.78"/>
<rect x="201.6" y="51.53" width="6.4" height="1" fill="#2323ff" fill-opacity="0.89"/>
<rect x="201.6" y="52.76" width="6.4" height="1" fill="#2323ff" fill-opacity="0.82"/>
<rect x="201.6" y="54.05" width="6.4" height="1" fill="#2323ff" fill-opacity="0.84"/>
<rect x="201.6" y="55.27" width="6.4" height="1" fill="#2323ff" fill-opacity="0.94"/>
<rect x="201.6" y="56.59" width="6.4" height="1" fill="#2323ff" fill-opacity="0.94"/>
<rect x="201.6" y="57.83" width="6.4" height="1" fill="#2323ff" fill-opacity="0.76"/>
<rect x="201.6" y="59.09" width="6.4" height="1" fill="#2323ff" fill-opacity="0.86"/>
<rect x="201.6" y="60.30" width="6.4" height="1" fill="#2323ff" fill-opacity="0.76"/>
<rect x="201.6" y="61.53" width="6.4" height="1" fill="#2323ff" fill-opacity="0.84"/>
<rect x="201.6" y="62.68" width="6.4" height="1" fill="#2323ff" fill-opacity="0.82"/>
<rect x="201.6" y="63.90" width="6.4" height="1" fill="#2323ff" fill-opacity="0.86"/>
<rect x="201.6" y="65.28" width="6.4" height="1" fill="#2323ff" fill-opacity="0.90"/>
<rect x="201.6" y="66.70" width="6.4" height="1" fill="#2323ff" fill-opacity="0.70"/>
<rect x="201.6" y="68.10" width="6.4" height="1" fill="#2323ff" fill-opacity="0.42"/>
<rect x="201.6" y="69.50" width="6.4" height="1" fill="#2323ff" fill-opacity="0.70"/>
<rect x="201.6" y="71.40" width="6.4" height="1" fill="#2323ff" fill-opacity="0.42"/>
<rect x="201.6" y="72.80" width="6.4" height="1" fill="#2323ff" fill-opacity="0.42"/>
<rect x="201.6" y="74.30" width="6.4" height="1" fill="#2323ff" fill-opacity="0.42"/>
<rect x="201.6" y="75.70" width="6.4" height="1" fill="#2323ff" fill-opacity="0.22"/>
<rect x="201.6" y="77.10" width="6.4" height="1" fill="#2323ff" fill-opacity="0.22"/>
<rect x="201.6" y="78.50" width="6.4" height="1" fill="#2323ff" fill-opacity="0.22"/>
<rect x="201.6" y="80.00" width="6.4" height="1" fill="#2323ff" fill-opacity="0.22"/>
<rect x="201.6" y="81.90" width="6.4" height="1" fill="#2323ff" fill-opacity="0.22"/>
<rect x="220.2" y="48.80" width="6.4" height="1" fill="#ff1e1e" fill-opacity="0.70"/>
<rect x="220.2" y="50.10" width="6.4" height="1" fill="#ff1e1e" fill-opacity="0.70"/>
<rect x="220.2" y="53.40" width="6.4" height="1" fill="#ff1e1e" fill-opacity="0.42"/>
<rect x="220.2" y="54.70" width="6.4" height="1" fill="#ff1e1e" fill-opacity="0.42"/>
<rect x="220.2" y="56.10" width="6.4" height="1" fill="#ff1e1e" fill-opacity="0.42"/>
<rect x="220.2" y="57.10" width="6.4" height="1" fill="#ff1e1e" fill-opacity="0.22"/>
<rect x="220.2" y="59.30" width="6.4" height="1" fill="#ff1e1e" fill-opacity="0.22"/>
<rect x="229.6" y="11.30" width="6.4" height="1" fill="#2323ff" fill-opacity="0.22"/>
<rect x="229.6" y="15.50" width="6.4" height="1" fill="#2323ff" fill-opacity="0.22"/>
<rect x="229.6" y="19.60" width="6.4" height="1" fill="#2323ff" fill-opacity="0.22"/>
<rect x="229.6" y="23.50" width="6.4" height="1" fill="#2323ff" fill-opacity="0.42"/>
<rect x="229.6" y="25.20" width="6.4" height="1" fill="#2323ff" fill-opacity="0.70"/>
<rect x="229.6" y="26.90" width="6.4" height="1" fill="#2323ff" fill-opacity="0.70"/>
<rect x="229.6" y="28.90" width="6.4" height="1" fill="#2323ff" fill-opacity="0.70"/>
<rect x="229.6" y="30.80" width="6.4" height="1" fill="#2323ff" fill-opacity="0.70"/>
<rect x="229.6" y="32.50" width="6.4" height="1" fill="#2323ff" fill-opacity="0.42"/>
<rect x="229.6" y="34.30" width="6.4" height="1" fill="#2323ff" fill-opacity="0.70"/>
<rect x="229.6" y="36.20" width="6.4" height="1" fill="#2323ff" fill-opacity="0.42"/>
<rect x="229.6" y="38.20" width="6.4" height="1" fill="#2323ff" fill-opacity="0.70"/>
<rect x="229.6" y="39.90" width="6.4" height="1" fill="#2323ff" fill-opacity="0.70"/>
<rect x="229.6" y="41.60" width="6.4" height="1" fill="#2323ff" fill-opacity="0.70"/>
<rect x="229.6" y="43.50" width="6.4" height="1" fill="#2323ff" fill-opacity="0.70"/>
<rect x="229.6" y="45.50" width="6.4" height="1" fill="#2323ff" fill-opacity="0.42"/>
<rect x="229.6" y="47.90" width="6.4" height="1" fill="#2323ff" fill-opacity="0.22"/>
<rect x="248.2" y="31.70" width="6.4" height="1" fill="#ff1e1e" fill-opacity="0.42"/>
<rect x="248.2" y="33.30" width="6.4" height="1" fill="#ff1e1e" fill-opacity="0.42"/>
<rect x="248.2" y="34.90" width="6.4" height="1" fill="#ff1e1e" fill-opacity="0.42"/>
<rect x="248.2" y="36.60" width="6.4" height="1" fill="#ff1e1e" fill-opacity="0.42"/>
<rect x="248.2" y="39.30" width="6.4" height="1" fill="#ff1e1e" fill-opacity="0.22"/>
<rect x="248.2" y="41.80" width="6.4" height="1" fill="#ff1e1e" fill-opacity="0.42"/>
<rect x="248.2" y="43.00" width="6.4" height="1" fill="#ff1e1e" fill-opacity="0.42"/>
<rect x="248.2" y="44.20" width="6.4" height="1" fill="#ff1e1e" fill-opacity="0.42"/>
<rect x="248.2" y="45.50" width="6.4" height="1" fill="#ff1e1e" fill-opacity="0.42"/>
<rect x="248.2" y="54.80" width="6.4" height="1" fill="#ff1e1e" fill-opacity="0.22"/>
<rect x="248.2" y="57.20" width="6.4" height="1" fill="#ff1e1e" fill-opacity="0.22"/>
<rect x="248.2" y="59.60" width="6.4" height="1" fill="#ff1e1e" fill-opacity="0.22"/>
<rect x="248.2" y="61.60" width="6.4" height="1" fill="#ff1e1e" fill-opacity="0.22"/>
<rect x="266.9" y="31.70" width="6.4" height="1" fill="#ff1e1e" fill-opacity="0.70"/>
<rect x="266.9" y="32.70" width="6.4" height="1" fill="#ff1e1e" fill-opacity="0.70"/>
<rect x="266.9" y="33.70" width="6.4" height="1" fill="#ff1e1e" fill-opacity="0.90"/>
<rect x="266.9" y="34.70" width="6.4" height="1" fill="#ff1e1e" fill-opacity="0.90"/>
<rect x="266.9" y="35.70" width="6.4" height="1" fill="#ff1e1e" fill-opacity="0.70"/>
<rect x="266.9" y="36.70" width="6.4" height="1" fill="#ff1e1e" fill-opacity="0.42"/>
<rect x="266.9" y="38.50" width="6.4" height="1" fill="#ff1e1e" fill-opacity="0.70"/>
<rect x="266.9" y="40.90" width="6.4" height="1" fill="#ff1e1e" fill-opacity="0.70"/>
<rect x="266.9" y="41.90" width="6.4" height="1" fill="#ff1e1e" fill-opacity="0.90"/>
<rect x="266.9" y="42.90" width="6.4" height="1" fill="#ff1e1e" fill-opacity="0.90"/>
<rect x="266.9" y="43.90" width="6.4" height="1" fill="#ff1e1e" fill-opacity="0.90"/>
<rect x="266.9" y="44.90" width="6.4" height="1" fill="#ff1e1e" fill-opacity="0.70"/>
<rect x="266.9" y="46.10" width="6.4" height="1" fill="#ff1e1e" fill-opacity="0.42"/>
<rect x="266.9" y="54.00" width="6.4" height="1" fill="#ff1e1e" fill-opacity="0.42"/>
<rect x="266.9" y="56.10" width="6.4" height="1" fill="#ff1e1e" fill-opacity="0.70"/>
<rect x="266.9" y="58.00" width="6.4" height="1" fill="#ff1e1e" fill-opacity="0.42"/>
<rect x="266.9" y="59.60" width="6.4" height="1" fill="#ff1e1e" fill-opacity="0.70"/>
<rect x="266.9" y="60.90" width="6.4" height="1" fill="#ff1e1e" fill-opacity="0.42"/>
<rect x="285.8" y="46.00" width="6.4" height="1" fill="#ff1e1e" fill-opacity="0.22"/>
<rect x="285.8" y="49.30" width="6.4" height="1" fill="#ff1e1e" fill-opacity="0.22"/>
<rect x="304.4" y="42.60" width="6.4" height="1" fill="#ff1e1e" fill-opacity="0.22"/>
<rect x="304.4" y="44.10" width="6.4" height="1" fill="#ff1e1e" fill-opacity="0.22"/>
<rect x="304.4" y="45.40" width="6.4" height="1" fill="#ff1e1e" fill-opacity="0.22"/>
<rect x="304.4" y="46.90" width="6.4" height="1" fill="#ff1e1e" fill-opacity="0.42"/>
<rect x="304.4" y="48.80" width="6.4" height="1" fill="#ff1e1e" fill-opacity="0.70"/>
</g>
<g filter="url(#gs)" stroke="#000" stroke-width="0.25">
<rect x="174.1" y="153.2" width="6.2" height="1" fill="#555555" fill-opacity="0.25" stroke="none"/><rect x="174.1" y="167.5" width="6.2" height="1" fill="#ff1e1e" fill-opacity="0.3" stroke="none"/><rect x="174.1" y="184.7" width="6.2" height="1" fill="#2323ff" fill-opacity="0.3" stroke="none"/><text x="193.4" y="158.1" font-size="10.8">NIST</text><text x="193.3" y="171.9" font-size="10.5"><tspan font-weight="bold" font-size="10.85">Strategy C (5p,5s)</tspan><tspan dx="1.0"> AS</tspan><tspan font-size="6.7" dy="4.3" dx="0">3L</tspan></text><text x="193.3" y="189.6" font-size="10.5"><tspan font-weight="bold" font-size="10.85">Strategy B</tspan><tspan dx="0.3"> AS</tspan><tspan font-size="6.7" dy="4.3" dx="0">2L</tspan></text>
<path d="M54.5,8.3 H316.5 V201.8 H54.5 Z" fill="none" stroke="#333" stroke-width="1.3"/><line x1="54.5" y1="201.80" x2="58.3" y2="201.80" stroke="#333" stroke-width="1.2"/><line x1="54.5" y1="191.05" x2="56.7" y2="191.05" stroke="#333" stroke-width="1.2"/><line x1="54.5" y1="180.30" x2="58.3" y2="180.30" stroke="#333" stroke-width="1.2"/><line x1="54.5" y1="169.55" x2="56.7" y2="169.55" stroke="#333" stroke-width="1.2"/><line x1="54.5" y1="158.80" x2="58.3" y2="158.80" stroke="#333" stroke-width="1.2"/><line x1="54.5" y1="148.05" x2="56.7" y2="148.05" stroke="#333" stroke-width="1.2"/><line x1="54.5" y1="137.30" x2="58.3" y2="137.30" stroke="#333" stroke-width="1.2"/><line x1="54.5" y1="126.55" x2="56.7" y2="126.55" stroke="#333" stroke-width="1.2"/><line x1="54.5" y1="115.80" x2="58.3" y2="115.80" stroke="#333" stroke-width="1.2"/><line x1="54.5" y1="105.05" x2="56.7" y2="105.05" stroke="#333" stroke-width="1.2"/><line x1="54.5" y1="94.30" x2="58.3" y2="94.30" stroke="#333" stroke-width="1.2"/><line x1="54.5" y1="83.55" x2="56.7" y2="83.55" stroke="#333" stroke-width="1.2"/><line x1="54.5" y1="72.80" x2="58.3" y2="72.80" stroke="#333" stroke-width="1.2"/><line x1="54.5" y1="62.05" x2="56.7" y2="62.05" stroke="#333" stroke-width="1.2"/><line x1="54.5" y1="51.30" x2="58.3" y2="51.30" stroke="#333" stroke-width="1.2"/><line x1="54.5" y1="40.55" x2="56.7" y2="40.55" stroke="#333" stroke-width="1.2"/><line x1="54.5" y1="29.80" x2="58.3" y2="29.80" stroke="#333" stroke-width="1.2"/><line x1="54.5" y1="19.05" x2="56.7" y2="19.05" stroke="#333" stroke-width="1.2"/><line x1="54.5" y1="8.30" x2="58.3" y2="8.30" stroke="#333" stroke-width="1.2"/><line x1="316.5" y1="197.64" x2="320.7" y2="197.64" stroke="#333" stroke-width="1.2"/><line x1="316.5" y1="188.97" x2="319.0" y2="188.97" stroke="#333" stroke-width="1.2"/><line x1="316.5" y1="180.30" x2="320.7" y2="180.30" stroke="#333" stroke-width="1.2"/><line x1="316.5" y1="171.63" x2="319.0" y2="171.63" stroke="#333" stroke-width="1.2"/><line x1="316.5" y1="162.96" x2="320.7" y2="162.96" stroke="#333" stroke-width="1.2"/><line x1="316.5" y1="154.29" x2="319.0" y2="154.29" stroke="#333" stroke-width="1.2"/><line x1="316.5" y1="145.62" x2="320.7" y2="145.62" stroke="#333" stroke-width="1.2"/><line x1="316.5" y1="136.95" x2="319.0" y2="136.95" stroke="#333" stroke-width="1.2"/><line x1="316.5" y1="128.28" x2="320.7" y2="128.28" stroke="#333" stroke-width="1.2"/><line x1="316.5" y1="119.61" x2="319.0" y2="119.61" stroke="#333" stroke-width="1.2"/><line x1="316.5" y1="110.94" x2="320.7" y2="110.94" stroke="#333" stroke-width="1.2"/><line x1="316.5" y1="102.27" x2="319.0" y2="102.27" stroke="#333" stroke-width="1.2"/><line x1="316.5" y1="93.60" x2="320.7" y2="93.60" stroke="#333" stroke-width="1.2"/><line x1="316.5" y1="84.92" x2="319.0" y2="84.92" stroke="#333" stroke-width="1.2"/><line x1="316.5" y1="76.25" x2="320.7" y2="76.25" stroke="#333" stroke-width="1.2"/><line x1="316.5" y1="67.58" x2="319.0" y2="67.58" stroke="#333" stroke-width="1.2"/><line x1="316.5" y1="58.91" x2="320.7" y2="58.91" stroke="#333" stroke-width="1.2"/><line x1="316.5" y1="50.24" x2="319.0" y2="50.24" stroke="#333" stroke-width="1.2"/><line x1="316.5" y1="41.57" x2="320.7" y2="41.57" stroke="#333" stroke-width="1.2"/><line x1="316.5" y1="32.90" x2="319.0" y2="32.90" stroke="#333" stroke-width="1.2"/><line x1="316.5" y1="24.23" x2="320.7" y2="24.23" stroke="#333" stroke-width="1.2"/><line x1="316.5" y1="15.56" x2="319.0" y2="15.56" stroke="#333" stroke-width="1.2"/>
<text x="49.8" y="204.60" text-anchor="end" font-size="10.2">-20000</text><text x="49.8" y="183.10" text-anchor="end" font-size="10.2">0</text><text x="49.8" y="161.60" text-anchor="end" font-size="10.2">20000</text><text x="49.8" y="140.10" text-anchor="end" font-size="10.2">40000</text><text x="49.8" y="118.60" text-anchor="end" font-size="10.2">60000</text><text x="49.8" y="97.10" text-anchor="end" font-size="10.2">80000</text><text x="49.8" y="75.60" text-anchor="end" font-size="10.2">100000</text><text x="49.8" y="54.10" text-anchor="end" font-size="10.2">120000</text><text x="49.8" y="32.60" text-anchor="end" font-size="10.2">140000</text><text x="49.8" y="11.10" text-anchor="end" font-size="10.2">160000</text><text x="341.8" y="200.44" text-anchor="end" font-size="10.2">-2</text><text x="341.8" y="183.10" text-anchor="end" font-size="10.2">0</text><text x="341.8" y="165.76" text-anchor="end" font-size="10.2">2</text><text x="341.8" y="148.42" text-anchor="end" font-size="10.2">4</text><text x="341.8" y="131.08" text-anchor="end" font-size="10.2">6</text><text x="341.8" y="113.74" text-anchor="end" font-size="10.2">8</text><text x="341.8" y="96.40" text-anchor="end" font-size="10.2">10</text><text x="341.8" y="79.05" text-anchor="end" font-size="10.2">12</text><text x="341.8" y="61.71" text-anchor="end" font-size="10.2">14</text><text x="341.8" y="44.37" text-anchor="end" font-size="10.2">16</text><text x="341.8" y="27.03" text-anchor="end" font-size="10.2">18</text><text transform="translate(13.9,111.2) rotate(-90)" font-size="11"><tspan font-style="italic">E</tspan>, c<tspan textLength="6.6" lengthAdjust="spacingAndGlyphs">m</tspan><tspan font-size="7.5" dy="-6.3" dx="0">-1</tspan></text><text transform="translate(353.4,110.1) rotate(-90)" font-size="11"><tspan font-style="italic">E</tspan>, eV</text><text transform="translate(77.90,243.2) rotate(-90)" font-size="11.5" font-style="italic">4<tspan dx="0.6">f</tspan><tspan font-size="7.5" dy="-5.2" dx="2.8">4</tspan></text><text transform="translate(112.90,243.2) rotate(-90)" font-size="11.5" font-style="italic">4<tspan dx="0.6">f</tspan><tspan font-size="7.5" dy="-5.2" dx="2.8">3</tspan><tspan dy="5.2" dx="0.5">5d</tspan></text><text transform="translate(148.50,243.2) rotate(-90)" font-size="11.5" font-style="italic">4<tspan dx="0.6">f</tspan><tspan font-size="7.5" dy="-5.2" dx="2.8">3</tspan><tspan dy="5.2" dx="0.5">6s</tspan></text><text transform="translate(175.30,243.2) rotate(-90)" font-size="11.5" font-style="italic">4<tspan dx="0.6">f</tspan><tspan font-size="7.5" dy="-5.2" dx="2.8">3</tspan><tspan dy="5.2" dx="0.5">6p</tspan></text><text transform="translate(204.20,243.2) rotate(-90)" font-size="11.5" font-style="italic">4<tspan dx="0.6">f</tspan><tspan font-size="7.5" dy="-5.2" dx="2.8">2</tspan><tspan dy="5.2" dx="0.5">5d</tspan><tspan font-size="7.5" dy="-5.2" dx="0.8">2</tspan></text><text transform="translate(228.80,243.2) rotate(-90)" font-size="11.5" font-style="italic">4<tspan dx="0.6">f</tspan><tspan font-size="7.5" dy="-5.2" dx="2.8">2</tspan><tspan dy="5.2" dx="0.5">5d6s</tspan></text><text transform="translate(252.50,243.2) rotate(-90)" font-size="11.5" font-style="italic">4<tspan dx="0.6">f</tspan><tspan font-size="7.5" dy="-5.2" dx="2.8">3</tspan><tspan dy="5.2" dx="0.5">7s</tspan></text><text transform="translate(274.40,243.2) rotate(-90)" font-size="11.5" font-style="italic">4<tspan dx="0.6">f</tspan><tspan font-size="7.5" dy="-5.2" dx="2.8">3</tspan><tspan dy="5.2" dx="0.5">6d</tspan></text><text transform="translate(293.30,243.2) rotate(-90)" font-size="11.5" font-style="italic">4<tspan dx="0.6">f</tspan><tspan font-size="7.5" dy="-5.2" dx="2.8">3</tspan><tspan dy="5.2" dx="0.5">7p</tspan></text><text transform="translate(311.10,243.2) rotate(-90)" font-size="11.5" font-style="italic">4<tspan dx="0.6">f</tspan><tspan font-size="7.5" dy="-5.2" dx="2.8">3</tspan><tspan dy="5.2" dx="0.5">5f</tspan></text><text x="63" y="22.8" font-size="11">Nd III</text><text x="80.2" y="40.4" font-size="10.5" fill="#1a1aff" stroke="#1a1aff" stroke-width="0.35">7</text><text x="71.0" y="65.2" font-size="10.5" fill="#ff1010" stroke="#ff1010" stroke-width="0.35">5</text><text x="108.4" y="53.0" font-size="10.5" fill="#ff1010" stroke="#ff1010" stroke-width="0.35">2</text><text x="117.4" y="47.8" font-size="10.5" fill="#1a1aff" stroke="#1a1aff" stroke-width="0.35">6</text>
</g>
</svg>
</body></html>
